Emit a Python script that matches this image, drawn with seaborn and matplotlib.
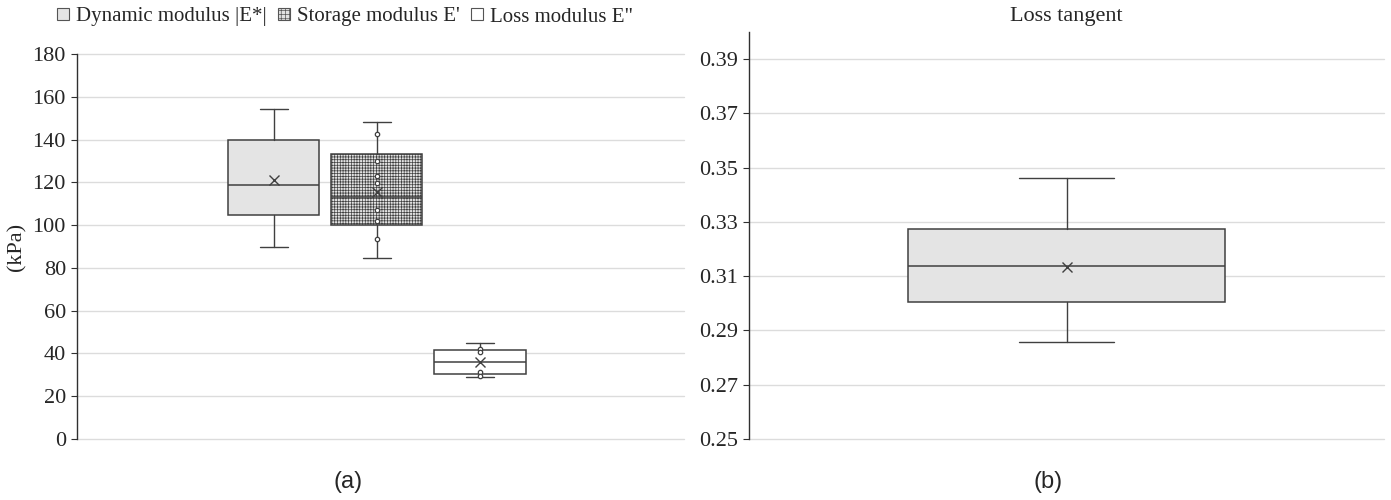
import numpy as np
import matplotlib
matplotlib.use("Agg")
from matplotlib import pyplot as plt
from matplotlib.patches import Patch
import seaborn as sns

# box statistics (kPa)
moduli = ["Dynamic modulus |E*|", "Storage modulus E'", "Loss modulus E\""]
mod_whislo = [89.8, 84.6, 28.8]
mod_q1 = [104.7, 100.0, 30.4]
mod_med = [118.7, 113.1, 36.1]
mod_q3 = [139.8, 133.2, 41.6]
mod_whishi = [154.3, 148.2, 44.9]
mod_mean = [120.9, 115.3, 36.1]

# inner points shown in the chart
storage_points = [142.6, 130.1, 122.9, 119.5, 107.0, 101.9, 93.6]
loss_points = [42.1, 40.8, 31.1, 29.6]

# loss tangent
tan_stats = [0.2857, 0.3005, 0.3137, 0.3274, 0.3462]   # whislo, q1, med, q3, whishi
tan_mean = 0.3134

sns.set_style("white")
plt.rcParams['font.family'] = ['Liberation Serif', 'DejaVu Serif']
plt.rcParams['hatch.linewidth'] = 0.5
plt.rcParams['hatch.color'] = '#a4a4a4'

line_c = '#404040'
fills = ['#e4e4e4', '#e2e2e2', 'white']
hatches = [None, '++++++', None]
fs = 16

fig = plt.figure(figsize=(13.91, 5), dpi=100)
ax1 = fig.add_axes([77/1391, 1-439/500, 607/1391, 385/500])
ax2 = fig.add_axes([749/1391, 1-439/500, 635/1391, 407/500])

def style_axis(ax):
    ax.grid(axis='y', color='#dcdcdc', lw=1)
    for g in ax.get_ygridlines():
        g.set_clip_on(False)
    ax.set_axisbelow(True)
    for s in ['top', 'right', 'bottom']:
        ax.spines[s].set_visible(False)
    ax.spines['left'].set_color('#303030')
    ax.spines['left'].set_linewidth(1)
    ax.tick_params(axis='y', left=True, length=4, width=0.8, color='#303030',
                   labelsize=fs, pad=4)
    ax.tick_params(axis='x', bottom=False, labelbottom=False)

def draw_box(ax, pos, st, mean, width, fill, hatch):
    stats = [dict(whislo=st[0], q1=st[1], med=st[2], q3=st[3], whishi=st[4],
                  mean=mean, fliers=[])]
    b = ax.bxp(stats, positions=[pos], widths=width, patch_artist=True,
               showmeans=True, showfliers=False,
               boxprops=dict(facecolor=fill, edgecolor=line_c, lw=1.1, hatch=hatch),
               medianprops=dict(color=line_c, lw=1.1),
               whiskerprops=dict(color=line_c, lw=1),
               capprops=dict(color=line_c, lw=1),
               meanprops=dict(marker='x', markeredgecolor=line_c, markersize=6.5,
                              markeredgewidth=1),
               capwidths=width * 0.3, manage_ticks=False)
    return b

# left panel: moduli
for i in range(3):
    st = [mod_whislo[i], mod_q1[i], mod_med[i], mod_q3[i], mod_whishi[i]]
    draw_box(ax1, i, st, mod_mean[i], 0.885, fills[i], hatches[i])

sns.scatterplot(x=[1] * len(storage_points), y=storage_points, ax=ax1,
                marker='o', s=10, facecolor='white', edgecolor=line_c,
                linewidth=0.9, zorder=5, legend=False)
sns.scatterplot(x=[2] * len(loss_points), y=loss_points, ax=ax1,
                marker='o', s=10, facecolor='white', edgecolor=line_c,
                linewidth=0.9, zorder=5, legend=False)

ax1.set_xlim(-1.91, 3.98)
ax1.set_ylim(0, 180)
ax1.set_yticks(np.arange(0, 181, 20))
ax1.set_ylabel('(kPa)', fontsize=fs, labelpad=4)
style_axis(ax1)

handles = [Patch(facecolor=fills[i], edgecolor='#555555',
                 hatch=hatches[i] and '++++', lw=0.8,
                 label=moduli[i]) for i in range(3)]
fig.legend(handles=handles, loc='center', bbox_to_anchor=(345/1391, 1-17/500),
           ncol=3, frameon=False, fontsize=15, handlelength=0.55, handleheight=0.55,
           handletextpad=0.35, columnspacing=0.55, borderpad=0)

# right panel: loss tangent
draw_box(ax2, 0, tan_stats, tan_mean, 1.0, '#e4e4e4', None)
ax2.set_xlim(-1, 1)
ax2.set_ylim(0.25, 0.40)
ax2.set_yticks(np.arange(0.25, 0.391, 0.02))
ax2.set_yticklabels([f"{v:.2f}" for v in np.arange(0.25, 0.391, 0.02)])
style_axis(ax2)
fig.text(1066/1391, 1-17/500, 'Loss tangent', fontsize=fs, ha='center', va='center')

fig.text(348/1391, 1-482/500, '(a)', family='Liberation Sans', fontsize=17,
         ha='center', va='center')
fig.text(1048/1391, 1-482/500, '(b)', family='Liberation Sans', fontsize=17,
         ha='center', va='center')

fig.savefig('out.png', dpi=100)
